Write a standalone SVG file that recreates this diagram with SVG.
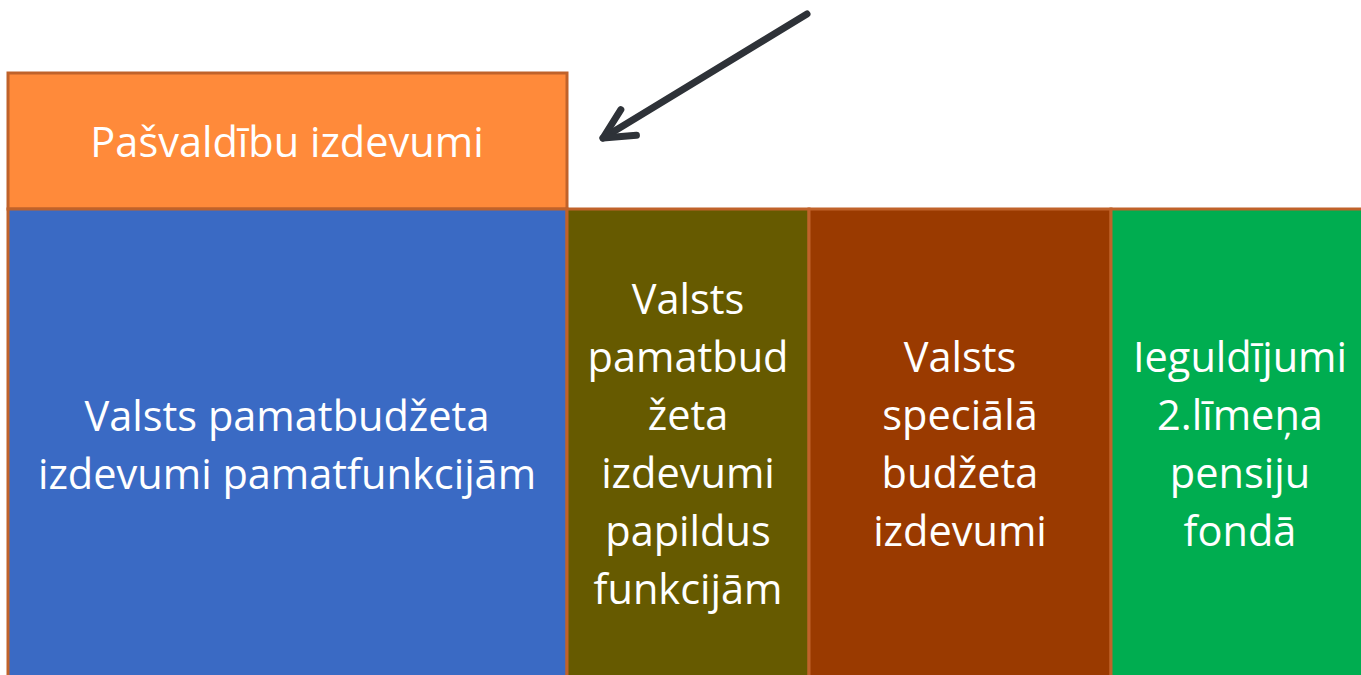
<svg xmlns="http://www.w3.org/2000/svg" width="1361" height="675" viewBox="0 0 1361 675">
<style>
.box{stroke:#C0622A;stroke-width:3}
.t{font-family:"Open Sans","Liberation Sans",sans-serif;font-size:41.5px;fill:#fff;text-anchor:middle}
</style>
<defs>
<marker id="ah" viewBox="0 0 40 40" refX="36" refY="20" markerWidth="40" markerHeight="40" orient="auto" markerUnits="userSpaceOnUse" overflow="visible">
<path d="M6,5 L36,20 L6,35" fill="none" stroke="#2E3238" stroke-width="7" stroke-linecap="round" stroke-linejoin="round"/>
</marker>
</defs>
<rect width="1361" height="675" fill="#fff"/>
<g id="n-pasvaldibu">
<rect class="box" x="8" y="73" width="559" height="136" fill="#FF8A3A"/>
<text class="t" x="287" y="157">Pašvaldību izdevumi</text>
</g>
<g id="n-pamat">
<rect class="box" x="8" y="209" width="559" height="470" fill="#3A6AC4"/>
<text class="t" x="287" y="431">Valsts pamatbudžeta</text>
<text class="t" x="287" y="489">izdevumi pamatfunkcijām</text>
</g>
<g id="n-papildus">
<rect class="box" x="567" y="209" width="242" height="470" fill="#665A00"/>
<text class="t" x="688" y="314">Valsts</text>
<text class="t" x="688" y="372">pamatbud</text>
<text class="t" x="688" y="430">žeta</text>
<text class="t" x="688" y="488">izdevumi</text>
<text class="t" x="688" y="546">papildus</text>
<text class="t" x="688" y="604">funkcijām</text>
</g>
<g id="n-specialais">
<rect class="box" x="809" y="209" width="302" height="470" fill="#9A3A00"/>
<text class="t" x="960" y="372">Valsts</text>
<text class="t" x="960" y="430">speciālā</text>
<text class="t" x="960" y="488">budžeta</text>
<text class="t" x="960" y="546">izdevumi</text>
</g>
<g id="n-pensiju">
<rect class="box" x="1111" y="209" width="253" height="470" fill="#00AD50"/>
<text class="t" x="1240" y="372">Ieguldījumi</text>
<text class="t" x="1240" y="430">2.līmeņa</text>
<text class="t" x="1240" y="488">pensiju</text>
<text class="t" x="1240" y="546">fondā</text>
</g>
<g id="connectors">
<line x1="807" y1="14" x2="603" y2="138" stroke="#2E3238" stroke-width="7" stroke-linecap="round" marker-end="url(#ah)"/>
</g>
</svg>
